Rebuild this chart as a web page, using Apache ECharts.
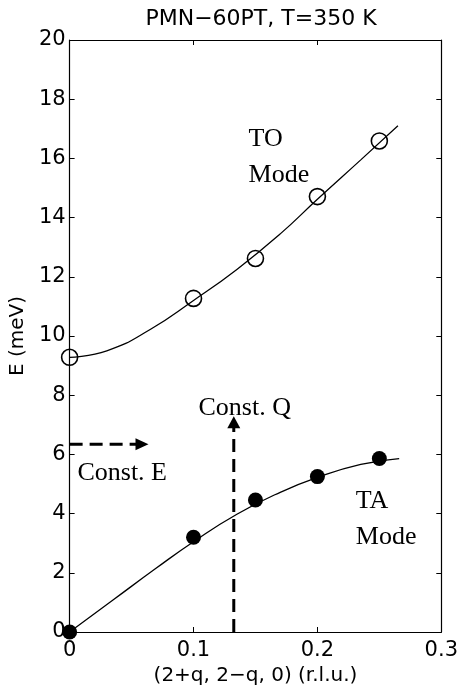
<!DOCTYPE html>
<html>
<head>
<meta charset="utf-8">
<script src="https://cdn.jsdelivr.net/npm/echarts@6/dist/echarts.min.js"></script>
<style>html,body{margin:0;padding:0;background:#fff}#c{width:461px;height:691px}</style>
</head>
<body>
<div id="c"></div>
<script>
// ---- data ----
var titleText = 'PMN\u221260PT, T=350 K';
var xName = '(2+q, 2\u2212q, 0) (r.l.u.)';
var yName = 'E (meV)';
var xTickLabels = ['0', '0.1', '0.2', '0.3'];
var yTickLabels = ['0', '2', '4', '6', '8', '10', '12', '14', '16', '18', '20'];

var toQ = [0, 0.1, 0.15, 0.2, 0.25];
var toE = [9.28, 11.27, 12.62, 14.71, 16.59];
var taQ = [0, 0.1, 0.15, 0.2, 0.25];
var taE = [0, 3.2, 4.46, 5.25, 5.86];

var toFitQ = [0, 0.03, 0.065, 0.1, 0.135, 0.17, 0.2, 0.235, 0.265];
var toFitE = [9.28, 9.5, 10.22, 11.2, 12.25, 13.45, 14.62, 15.95, 17.1];
var taFitQ = [0, 0.035, 0.07, 0.1, 0.135, 0.17, 0.2, 0.235, 0.266];
var taFitE = [0, 1.08, 2.16, 3.05, 3.98, 4.72, 5.22, 5.66, 5.86];

var constEQ = [0, 0.055];      // horizontal dashed arrow (constant E scan)
var constEE = [6.34, 6.34];
var constEHead = [0.0584, 6.34];
var constQQ = [0.1325, 0.1325]; // vertical dashed arrow (constant Q scan)
var constQE = [0, 6.9];
var constQHead = [0.1325, 7.09];

var notes = [
  {q: 0.1444, e: 16.65, text: 'TO'},
  {q: 0.1444, e: 15.44, text: 'Mode'},
  {q: 0.231, e: 4.42, text: 'TA'},
  {q: 0.231, e: 3.22, text: 'Mode'},
  {q: 0.104, e: 7.57, text: 'Const. Q'},
  {q: 0.0063, e: 5.38, text: 'Const. E'}
];

function zip(a, b) { return a.map(function (v, i) { return [v, b[i]]; }); }

var sans = 'DejaVu Sans';
var serif = 'Liberation Serif';

var chart = echarts.init(document.getElementById('c'), null, {renderer: 'canvas'});
var axisBase = {
  axisLine: {show: true, onZero: false, lineStyle: {color: '#000', width: 1.2}},
  axisTick: {show: true, inside: true, length: 5, lineStyle: {color: '#000', width: 1}},
  splitLine: {show: false}
};
chart.setOption({
  backgroundColor: '#fff',
  animation: false,
  title: {
    text: titleText, left: 256, top: 3, textAlign: 'center',
    textStyle: {fontFamily: sans, fontSize: 22, fontWeight: 'normal', color: '#000'}
  },
  grid: {left: 67, right: 16, top: 40, bottom: 59, containLabel: false},
  xAxis: [
    Object.assign({
      type: 'value', min: 0, max: 0.3, interval: 0.1, position: 'bottom',
      name: xName, nameLocation: 'middle', nameGap: 30,
      nameTextStyle: {fontFamily: sans, fontSize: 20, color: '#000'},
      axisLabel: {formatter: function (v, i) { return xTickLabels[i]; }, fontFamily: sans, fontSize: 21, color: '#000', margin: 8}
    }, axisBase),
    Object.assign({
      type: 'value', min: 0, max: 0.3, interval: 0.1, position: 'top',
      axisLabel: {show: false}
    }, axisBase)
  ],
  yAxis: [
    Object.assign({
      type: 'value', min: 0, max: 20, interval: 2, position: 'left',
      name: yName, nameLocation: 'middle', nameGap: 38,
      nameTextStyle: {fontFamily: sans, fontSize: 20, color: '#000'},
      axisLabel: {formatter: function (v, i) { return yTickLabels[i]; }, fontFamily: sans, fontSize: 21, color: '#000', margin: 4}
    }, axisBase),
    Object.assign({
      type: 'value', min: 0, max: 20, interval: 2, position: 'right',
      axisLabel: {show: false}
    }, axisBase)
  ],
  series: [
    {type: 'line', data: zip(toFitQ, toFitE), smooth: 0.5, showSymbol: false, symbol: 'none',
     lineStyle: {color: '#000', width: 1.3}, z: 2},
    {type: 'line', data: zip(taFitQ, taFitE), smooth: 0.5, showSymbol: false, symbol: 'none',
     lineStyle: {color: '#000', width: 1.3}, z: 2},
    {type: 'line', data: zip(constEQ, constEE), symbol: 'none',
     lineStyle: {color: '#000', width: 3, type: [13, 7]}, z: 2},
    {type: 'line', data: zip(constQQ, constQE), symbol: 'none',
     lineStyle: {color: '#000', width: 3, type: [13, 7]}, z: 2},
    {type: 'scatter', data: [constEHead], symbol: 'triangle', symbolSize: [12, 13], symbolRotate: -90,
     itemStyle: {color: '#000', opacity: 1}, z: 3},
    {type: 'scatter', data: [constQHead], symbol: 'triangle', symbolSize: [13, 12],
     itemStyle: {color: '#000', opacity: 1}, z: 3},
    {type: 'scatter', data: zip(toQ, toE), symbol: 'circle', symbolSize: 16, clip: false,
     itemStyle: {color: 'rgba(0,0,0,0)', borderColor: '#000', borderWidth: 1.6, opacity: 1}, z: 4},
    {type: 'scatter', data: zip(taQ, taE), symbol: 'circle', symbolSize: 15, clip: false,
     itemStyle: {color: '#000', opacity: 1}, z: 4},
    {type: 'scatter', symbolSize: 0, silent: true, clip: false,
     itemStyle: {opacity: 1},
     data: notes.map(function (n) { return {value: [n.q, n.e], name: n.text}; }),
     label: {show: true, position: 'right', distance: 0, formatter: '{b}',
             fontFamily: serif, fontSize: 26, color: '#000', opacity: 1}, z: 5}
  ]
});
</script>
</body>
</html>
